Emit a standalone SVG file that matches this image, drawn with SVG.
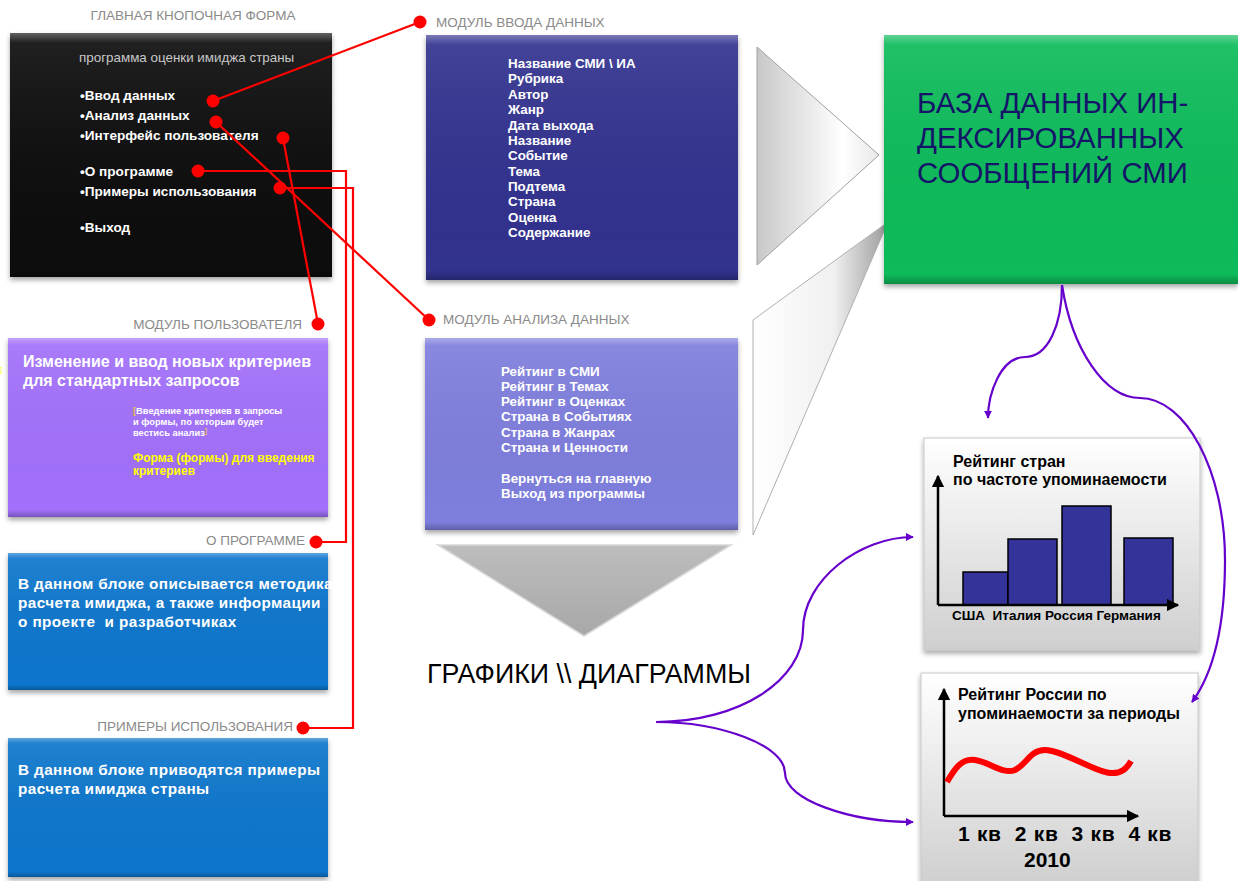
<svg xmlns="http://www.w3.org/2000/svg" width="1238" height="881" viewBox="0 0 1238 881">
<style>
text{font-family:"Liberation Sans",Arial,sans-serif;white-space:pre}
.lbl{font-size:13.5px;fill:#8a8a8a}
.item{font-size:13.6px;font-weight:bold;fill:#fff}
.list{font-size:13.4px;font-weight:bold;fill:#fff}
.red{stroke:#f00;stroke-width:2.2;fill:none}
.dot{fill:#f00}
.pur{stroke:#6600cc;stroke-width:2.2;fill:none}
.ct{font-size:16px;font-weight:bold;fill:#000}
</style>
<defs>
<filter id="sh" x="-10%" y="-10%" width="120%" height="125%">
<feDropShadow dx="0" dy="3" stdDeviation="2.5" flood-color="#000" flood-opacity="0.35"/>
</filter>
<linearGradient id="bev" x1="0" y1="0" x2="0" y2="1">
<stop offset="0" stop-color="#fff" stop-opacity="0.35"/>
<stop offset="0.04" stop-color="#fff" stop-opacity="0.08"/>
<stop offset="0.96" stop-color="#000" stop-opacity="0"/>
<stop offset="1" stop-color="#000" stop-opacity="0.25"/>
</linearGradient>
<linearGradient id="tri1" x1="0" y1="0" x2="1" y2="0">
<stop offset="0" stop-color="#c8c8c8"/>
<stop offset="0.7" stop-color="#ffffff"/>
<stop offset="1" stop-color="#e8e8e8"/>
</linearGradient>
<linearGradient id="tri2" x1="0" y1="0" x2="1" y2="0">
<stop offset="0" stop-color="#ffffff"/>
<stop offset="0.6" stop-color="#f0f0f0"/>
<stop offset="1" stop-color="#9a9a9a"/>
</linearGradient>
<linearGradient id="tri3" x1="0" y1="0" x2="0" y2="1">
<stop offset="0" stop-color="#bdbdbd"/>
<stop offset="1" stop-color="#a8a8a8"/>
</linearGradient>
<linearGradient id="chart" x1="0" y1="0" x2="0" y2="1">
<stop offset="0" stop-color="#ffffff"/>
<stop offset="1" stop-color="#cfcfcf"/>
</linearGradient>
<marker id="ap" viewBox="0 0 10 10" refX="9" refY="5" markerWidth="8" markerHeight="8" markerUnits="userSpaceOnUse" orient="auto">
<path d="M0,0 L10,5 L0,10 z" fill="#6600cc"/>
</marker>
<marker id="ab" viewBox="0 0 10 10" refX="9" refY="5" markerWidth="5" markerHeight="5" orient="auto">
<path d="M0,0 L10,5 L0,10 z" fill="#000"/>
</marker>
</defs>
<rect width="1238" height="881" fill="#fff"/>

<g id="main-form">
<text class="lbl" x="193" y="20" text-anchor="middle">ГЛАВНАЯ КНОПОЧНАЯ ФОРМА</text>
<rect x="10" y="33" width="322" height="244" fill="#111" filter="url(#sh)"/>
<rect x="10" y="33" width="322" height="244" fill="url(#bev)"/>
<text x="79" y="62" font-size="13.4" fill="#c8c8c8">программа оценки имиджа страны</text>
<text class="item" x="80" y="100">•Ввод данных</text>
<text class="item" x="80" y="120">•Анализ данных</text>
<text class="item" x="80" y="140">•Интерфейс пользователя</text>
<text class="item" x="80" y="176">•О программе</text>
<text class="item" x="80" y="196">•Примеры использования</text>
<text class="item" x="80" y="232">•Выход</text>
</g>

<g id="user-module">
<text class="lbl" x="302" y="329" text-anchor="end">МОДУЛЬ ПОЛЬЗОВАТЕЛЯ</text>
<rect x="8" y="338" width="320" height="179" fill="#a26ffb" filter="url(#sh)"/>
<rect x="8" y="338" width="320" height="179" fill="url(#bev)"/>
<text x="23" y="367" font-size="16" font-weight="bold" fill="#fff">Изменение и ввод новых критериев</text>
<text x="23" y="386" font-size="16" font-weight="bold" fill="#fff">для стандартных запросов</text>
<text x="133" y="414" font-size="9.3" font-weight="bold" fill="#fff"><tspan fill="#e8c040">[</tspan>Введение критериев в запросы</text>
<text x="133" y="425" font-size="9.3" font-weight="bold" fill="#fff">и формы, по которым будет</text>
<text x="133" y="436" font-size="9.3" font-weight="bold" fill="#fff">вестись анализ<tspan fill="#e8c040" font-size="7" dy="-3">]</tspan></text>
<text x="133" y="462" font-size="12" font-weight="bold" fill="#ffff00">Форма (формы) для введения</text>
<text x="133" y="475" font-size="12" font-weight="bold" fill="#ffff00">критериев</text>
<text x="0" y="372" font-size="8" fill="#ffff00">]</text>
</g>

<g id="about">
<text class="lbl" x="305" y="545" text-anchor="end">О ПРОГРАММЕ</text>
<rect x="8" y="553" width="320" height="137" fill="#0876cc" filter="url(#sh)"/>
<rect x="8" y="553" width="320" height="137" fill="url(#bev)"/>
<text x="18" y="589" font-size="15.3" font-weight="bold" fill="#fff" letter-spacing="0.4">В данном блоке описывается методика</text>
<text x="18" y="608" font-size="15.3" font-weight="bold" fill="#fff" letter-spacing="0.4">расчета имиджа, а также информации</text>
<text x="18" y="627" font-size="15.3" font-weight="bold" fill="#fff" letter-spacing="0.4">о проекте  и разработчиках</text>
</g>

<g id="examples">
<text class="lbl" x="293" y="731" text-anchor="end">ПРИМЕРЫ ИСПОЛЬЗОВАНИЯ</text>
<rect x="8" y="738" width="320" height="139" fill="#0876cc" filter="url(#sh)"/>
<rect x="8" y="738" width="320" height="139" fill="url(#bev)"/>
<text x="18" y="775" font-size="15.3" font-weight="bold" fill="#fff" letter-spacing="0.4">В данном блоке приводятся примеры</text>
<text x="18" y="794" font-size="15.3" font-weight="bold" fill="#fff" letter-spacing="0.4">расчета имиджа страны</text>
</g>

<g id="input-module">
<text class="lbl" x="436" y="27">МОДУЛЬ ВВОДА ДАННЫХ</text>
<rect x="426" y="35" width="312" height="245" fill="#32318f" filter="url(#sh)"/>
<rect x="426" y="35" width="312" height="245" fill="url(#bev)"/>
<text class="list" x="508" y="68">Название СМИ \ ИА</text>
<text class="list" x="508" y="83">Рубрика</text>
<text class="list" x="508" y="99">Автор</text>
<text class="list" x="508" y="114">Жанр</text>
<text class="list" x="508" y="130">Дата выхода</text>
<text class="list" x="508" y="145">Название</text>
<text class="list" x="508" y="160">Событие</text>
<text class="list" x="508" y="176">Тема</text>
<text class="list" x="508" y="191">Подтема</text>
<text class="list" x="508" y="206">Страна</text>
<text class="list" x="508" y="222">Оценка</text>
<text class="list" x="508" y="237">Содержание</text>
</g>

<g id="analysis-module">
<text class="lbl" x="443" y="324">МОДУЛЬ АНАЛИЗА ДАННЫХ</text>
<rect x="425" y="338" width="313" height="192" fill="#7e7edd" filter="url(#sh)"/>
<rect x="425" y="338" width="313" height="192" fill="url(#bev)"/>
<text class="list" x="501" y="376">Рейтинг в СМИ</text>
<text class="list" x="501" y="391">Рейтинг в Темах</text>
<text class="list" x="501" y="406">Рейтинг в Оценках</text>
<text class="list" x="501" y="421">Страна в Событиях</text>
<text class="list" x="501" y="437">Страна в Жанрах</text>
<text class="list" x="501" y="452">Страна и Ценности</text>
<text class="list" x="501" y="483">Вернуться на главную</text>
<text class="list" x="501" y="498">Выход из программы</text>
</g>

<g id="arrows-gray">
<polygon points="757,47 879,155 757,265" fill="url(#tri1)" stroke="#a0a0a0" stroke-width="1"/>
<polygon points="753,320 888,222 753,535" fill="url(#tri2)" stroke="#b0b0b0" stroke-width="1"/>
<polygon points="438,545 731,545 584,636" fill="url(#tri3)" stroke="#d8d8d8" stroke-width="1.5"/>
</g>

<g id="charts-label">
<text x="427" y="683" font-size="26.8" fill="#000">ГРАФИКИ \\ ДИАГРАММЫ</text>
</g>

<g id="database">
<rect x="884" y="35" width="354" height="249" fill="#08bb5a" filter="url(#sh)"/>
<rect x="884" y="35" width="354" height="249" fill="url(#bev)"/>
<text x="917" y="113" font-size="29.4" fill="#141468">БАЗА ДАННЫХ ИН-</text>
<text x="917" y="148" font-size="29.4" fill="#141468">ДЕКСИРОВАННЫХ</text>
<text x="917" y="183" font-size="29.4" fill="#141468">СООБЩЕНИЙ СМИ</text>
</g>

<g id="chart-bars">
<rect x="924" y="438" width="276" height="212" fill="url(#chart)" stroke="#c8c8c8" filter="url(#sh)"/>
<text class="ct" x="953" y="467">Рейтинг стран</text>
<text class="ct" x="953" y="485">по частоте упоминаемости</text>
<rect x="963" y="572" width="45" height="33" fill="#333399" stroke="#000" stroke-width="1.5"/>
<rect x="1008" y="539" width="49" height="66" fill="#333399" stroke="#000" stroke-width="1.5"/>
<rect x="1062" y="506" width="49" height="99" fill="#333399" stroke="#000" stroke-width="1.5"/>
<rect x="1124" y="538" width="49" height="67" fill="#333399" stroke="#000" stroke-width="1.5"/>
<line x1="938" y1="605" x2="938" y2="476" stroke="#000" stroke-width="2.5" marker-end="url(#ab)"/>
<line x1="938" y1="605" x2="1178" y2="605" stroke="#000" stroke-width="2.5" marker-end="url(#ab)"/>
<text x="952" y="620" font-size="13.5" font-weight="bold" fill="#000">США  Италия Россия Германия</text>
</g>

<g id="chart-line">
<rect x="921" y="673" width="277" height="212" fill="url(#chart)" stroke="#c8c8c8" filter="url(#sh)"/>
<text class="ct" x="958" y="700">Рейтинг России по</text>
<text class="ct" x="958" y="719">упоминаемости за периоды</text>
<line x1="944" y1="816" x2="944" y2="689" stroke="#000" stroke-width="2.5" marker-end="url(#ab)"/>
<line x1="944" y1="816" x2="1138" y2="816" stroke="#000" stroke-width="2.5" marker-end="url(#ab)"/>
<path d="M947,782 C955,768 962,758 975,760 C990,762 1003,775 1015,770 C1027,764 1030,750 1045,750 C1062,750 1095,772 1110,773 C1122,774 1127,768 1131,761" fill="none" stroke="#f00" stroke-width="6"/>
<text x="958" y="841" font-size="21" font-weight="bold" fill="#000" letter-spacing="0.7">1 кв  2 кв  3 кв  4 кв</text>
<text x="1024" y="867" font-size="21" font-weight="bold" fill="#000">2010</text>
</g>

<g id="connectors">
<path class="red" d="M213,101 L420,22"/>
<path class="red" d="M216,122 L429,320"/>
<path class="red" d="M283,138 L318,324"/>
<path class="red" d="M198,171 L346,171 L346,542 L316,542"/>
<path class="red" d="M280,188 L353,188 L353,728 L303,728"/>
<circle class="dot" cx="213" cy="101" r="6.5"/>
<circle class="dot" cx="216" cy="122" r="6.5"/>
<circle class="dot" cx="283" cy="138" r="6.5"/>
<circle class="dot" cx="198" cy="171" r="6.5"/>
<circle class="dot" cx="280" cy="188" r="6.5"/>
<circle class="dot" cx="420" cy="22" r="6.5"/>
<circle class="dot" cx="429" cy="320" r="6.5"/>
<circle class="dot" cx="318" cy="324" r="6.5"/>
<circle class="dot" cx="316" cy="542" r="6.5"/>
<circle class="dot" cx="303" cy="728" r="6.5"/>
<path class="pur" d="M1062,285 C1062,325 1048,357 1025,357 C1000,357 988,395 988,418" marker-end="url(#ap)"/>
<path class="pur" d="M1062,285 C1072,350 1105,398 1140,398 C1185,398 1225,470 1225,560 C1225,630 1212,675 1192,702" marker-end="url(#ap)"/>
<path class="pur" d="M656,722 C740,722 803,680 803,630 C803,580 860,537 913,537" marker-end="url(#ap)"/>
<path class="pur" d="M656,722 C720,722 785,745 785,773 C785,800 850,822 913,822" marker-end="url(#ap)"/>
</g>
</svg>
